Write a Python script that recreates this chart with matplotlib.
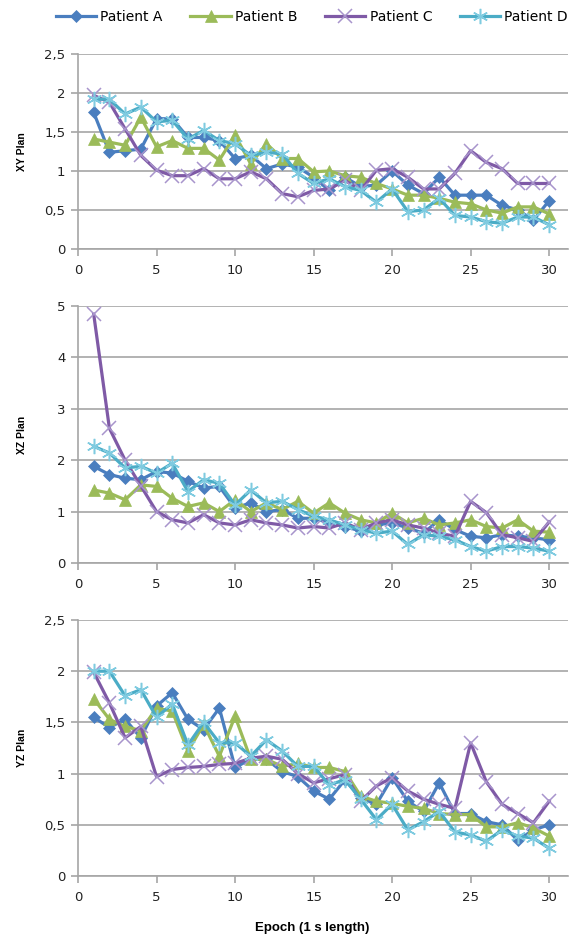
import matplotlib
matplotlib.use('AGG')
import matplotlib.pyplot as plt
from matplotlib.ticker import FuncFormatter, MultipleLocator

# epochs 1..30
epochs = list(range(1, 31))
patients = ['Patient A', 'Patient B', 'Patient C', 'Patient D']

# XY plan
xy_a = [1.75, 1.24, 1.26, 1.28, 1.67, 1.67, 1.43, 1.43, 1.39, 1.16, 1.20, 1.03, 1.09, 1.05, 0.92,
        0.75, 0.92, 0.80, 0.82, 1.00, 0.82, 0.71, 0.92, 0.69, 0.69, 0.69, 0.56, 0.50, 0.37, 0.62]
xy_b = [1.41, 1.37, 1.33, 1.69, 1.31, 1.39, 1.29, 1.29, 1.14, 1.46, 1.09, 1.35, 1.16, 1.16, 0.99,
        1.00, 0.94, 0.92, 0.84, 0.77, 0.69, 0.69, 0.65, 0.60, 0.58, 0.50, 0.46, 0.54, 0.54, 0.45]
xy_c = [1.97, 1.88, 1.54, 1.20, 1.01, 0.94, 0.94, 1.03, 0.90, 0.90, 0.99, 0.90, 0.71, 0.67, 0.75,
        0.77, 0.88, 0.75, 1.01, 1.03, 0.92, 0.77, 0.77, 0.97, 1.26, 1.11, 1.03, 0.84, 0.84, 0.84]
xy_d = [1.92, 1.92, 1.73, 1.82, 1.63, 1.65, 1.41, 1.52, 1.39, 1.35, 1.20, 1.24, 1.22, 0.97, 0.84,
        0.90, 0.80, 0.75, 0.60, 0.77, 0.48, 0.50, 0.65, 0.43, 0.41, 0.35, 0.33, 0.41, 0.41, 0.31]

# XZ plan
xz_a = [1.88, 1.72, 1.65, 1.62, 1.78, 1.75, 1.59, 1.46, 1.49, 1.07, 1.17, 1.00, 1.04, 0.87, 0.87,
        0.78, 0.71, 0.62, 0.74, 0.78, 0.68, 0.58, 0.84, 0.65, 0.52, 0.49, 0.55, 0.52, 0.49, 0.45]
xz_b = [1.42, 1.36, 1.23, 1.52, 1.49, 1.26, 1.10, 1.17, 1.00, 1.23, 1.00, 1.17, 1.04, 1.20, 0.97,
        1.17, 0.97, 0.84, 0.78, 0.97, 0.78, 0.87, 0.74, 0.78, 0.84, 0.71, 0.68, 0.84, 0.62, 0.60]
xz_c = [4.84, 2.62, 2.00, 1.50, 1.00, 0.84, 0.78, 0.94, 0.78, 0.74, 0.84, 0.78, 0.74, 0.68, 0.71,
        0.68, 0.78, 0.65, 0.78, 0.84, 0.74, 0.68, 0.58, 0.52, 1.20, 0.98, 0.55, 0.49, 0.42, 0.80]
xz_d = [2.27, 2.14, 1.85, 1.88, 1.75, 1.94, 1.39, 1.62, 1.55, 1.13, 1.42, 1.17, 1.20, 1.04, 0.91,
        0.84, 0.74, 0.65, 0.58, 0.62, 0.36, 0.55, 0.52, 0.45, 0.32, 0.23, 0.32, 0.32, 0.29, 0.23]

# YZ plan
yz_a = [1.55, 1.45, 1.53, 1.35, 1.66, 1.79, 1.53, 1.43, 1.64, 1.06, 1.14, 1.14, 1.02, 0.97, 0.83,
        0.75, 0.94, 0.76, 0.70, 0.96, 0.73, 0.63, 0.91, 0.61, 0.61, 0.53, 0.50, 0.35, 0.45, 0.50]
yz_b = [1.73, 1.53, 1.46, 1.42, 1.64, 1.61, 1.22, 1.48, 1.17, 1.56, 1.14, 1.14, 1.07, 1.10, 1.06,
        1.06, 1.02, 0.78, 0.73, 0.71, 0.68, 0.66, 0.61, 0.60, 0.60, 0.48, 0.48, 0.52, 0.47, 0.39]
yz_c = [1.99, 1.69, 1.35, 1.46, 0.97, 1.04, 1.06, 1.07, 1.09, 1.10, 1.15, 1.17, 1.14, 1.00, 0.91,
        0.95, 0.99, 0.73, 0.88, 0.96, 0.83, 0.75, 0.70, 0.66, 1.30, 0.92, 0.70, 0.61, 0.52, 0.73]
yz_d = [2.00, 2.00, 1.76, 1.82, 1.55, 1.68, 1.28, 1.50, 1.30, 1.30, 1.17, 1.33, 1.22, 1.07, 1.07,
        0.89, 0.94, 0.75, 0.55, 0.70, 0.45, 0.53, 0.63, 0.43, 0.40, 0.34, 0.45, 0.39, 0.37, 0.27]

panel_names = ['XY Plan', 'XZ Plan', 'YZ Plan']
panel_data = [[xy_a, xy_b, xy_c, xy_d], [xz_a, xz_b, xz_c, xz_d], [yz_a, yz_b, yz_c, yz_d]]
panel_ymax = [2.5, 5, 2.5]
panel_ystep = [0.5, 1, 0.5]

# excel 2007 palette, one marker per series
colors = ['#4a7ebf', '#9bbb59', '#7f5aa6', '#4bacc6']
edge_colors = ['#4a7ebf', '#9bbb59', '#a894cc', '#7fcbe0']
markers = ['D', '^', 'x', (6, 2, 0)]
msizes = [6.5, 8, 10, 11]

W, H = 574, 938
# axes boxes in pixels: top, bottom
boxes = [(54, 249), (306, 563), (620, 876)]
left_px, right_px = 78, 568
grid_col = '#a6a6a6'


def comma(v, pos):
    s = ('%g' % v)
    return s.replace('.', ',')


plt.rcParams['font.family'] = ['DejaVu Sans']
fig = plt.figure(figsize=(W / 100, H / 100), dpi=100)

for i in range(3):
    top, bot = boxes[i]
    ax = fig.add_axes([left_px / W, 1 - bot / H, (right_px - left_px) / W, (bot - top) / H])
    for j in range(4):
        ax.plot(epochs, panel_data[i][j], color=colors[j], lw=2.3, marker=markers[j],
                ms=msizes[j], mfc=colors[j], mec=edge_colors[j], mew=1.1 if j >= 2 else 0.5,
                label=patients[j], zorder=3 + j, clip_on=False)
    ax.set_xlim(0, 31.2)
    ax.set_ylim(0, panel_ymax[i])
    ax.set_xticks(range(0, 31, 5))
    ax.yaxis.set_major_locator(MultipleLocator(panel_ystep[i]))
    ax.yaxis.set_major_formatter(FuncFormatter(comma))
    ax.grid(axis='y', color=grid_col, lw=1.2)
    ax.set_axisbelow(True)
    for s in ['top', 'right']:
        ax.spines[s].set_visible(False)
    for s in ['left', 'bottom']:
        ax.spines[s].set_color(grid_col)
        ax.spines[s].set_linewidth(1.2)
    ax.tick_params(axis='both', colors=grid_col, length=5, width=1.2, labelsize=9.5,
                   labelcolor='#222222', pad=4)
    ax.tick_params(axis='x', pad=6)
    fig.text(22 / W, 1 - (top + bot) / 2 / H, panel_names[i], rotation=90, ha='center',
             va='center', fontsize=7.5, fontweight='bold', family='Liberation Sans')
    if i == 0:
        handles, labels = ax.get_legend_handles_labels()

fig.text(312 / W, 1 - 928 / H, 'Epoch (1 s length)', ha='center', va='center',
         fontsize=9.5, fontweight='bold', family='Liberation Sans')

fig.legend(handles, labels, loc='center', bbox_to_anchor=(312 / W, 1 - 17 / H), ncol=4,
           frameon=False, fontsize=10, handlelength=2.9, handletextpad=0.3, columnspacing=2.0)

plt.savefig('out.png', dpi=100)
